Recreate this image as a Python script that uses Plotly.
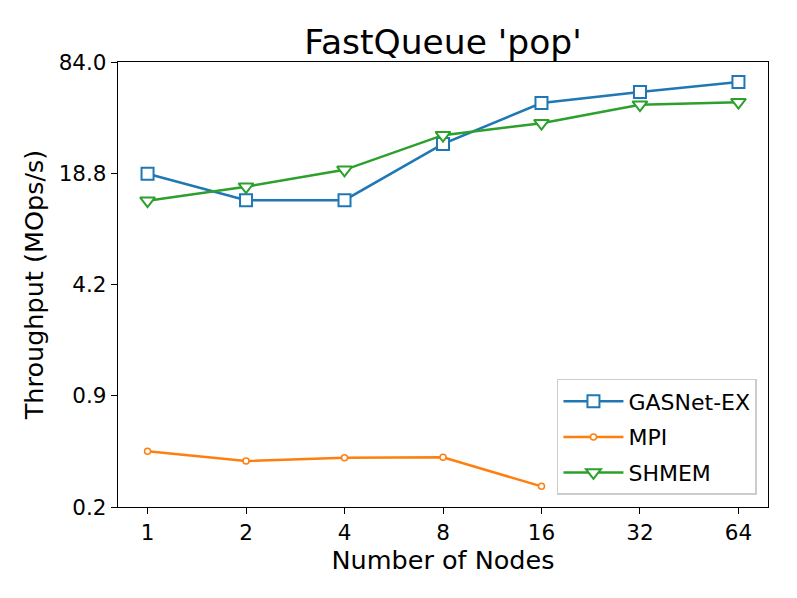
import math
import plotly.graph_objects as go

nodes = ["1", "2", "4", "8", "16", "32", "64"]
gasnet = [18.7, 13.1, 13.1, 27.9, 48.4, 56.1, 64.2]
mpi_nodes = ["1", "2", "4", "8", "16"]
mpi = [0.447, 0.392, 0.410, 0.412, 0.279]
shmem = [13.0, 15.7, 19.7, 31.4, 36.9, 47.3, 48.9]

y_tick_values = [0.2113, 0.9423, 4.21, 18.78, 84.0]
y_tick_labels = ["0.2", "0.9", "4.2", "18.8", "84.0"]

FONT = "DejaVu Sans"

fig = go.Figure()
fig.add_trace(go.Scatter(
    x=nodes, y=gasnet, name="GASNet-EX", mode="lines+markers", legendgroup="g1",
    line=dict(color="#1f77b4", width=2.5),
    marker=dict(symbol="square", size=12, color="white",
                line=dict(color="#1f77b4", width=2)),
))
fig.add_trace(go.Scatter(
    x=mpi_nodes, y=mpi, name="MPI", mode="lines+markers", legendgroup="g2",
    line=dict(color="#ff7f0e", width=2.5),
    marker=dict(symbol="circle", size=6, color="white",
                line=dict(color="#ff7f0e", width=1.5)),
))
fig.add_trace(go.Scatter(
    x=nodes, y=shmem, name="SHMEM", mode="lines+markers", legendgroup="g3",
    line=dict(color="#2ca02c", width=2.5),
    marker=dict(symbol="triangle-down", size=13, color="white",
                line=dict(color="#2ca02c", width=2)),
))

fig.update_layout(
    width=797, height=598,
    paper_bgcolor="white", plot_bgcolor="white",
    margin=dict(l=110, r=37, t=54, b=99),
    font=dict(family=FONT, size=20, color="black"),
    title=dict(text="FastQueue 'pop'", x=0.5, xref="paper",
               y=1 - 34 / 598, yref="container", yanchor="middle",
               font=dict(size=34.5, family=FONT, color="black")),
    legend=dict(x=0.983, xanchor="right", y=0.027, yanchor="bottom",
                bordercolor="#cccccc", borderwidth=1.5, bgcolor="white",
                font=dict(size=22, family=FONT), tracegroupgap=4,
                itemwidth=60),
    showlegend=True,
)
fig.update_xaxes(
    type="category", categoryorder="array", categoryarray=nodes,
    range=[-0.3, 6.3],
    showline=True, linecolor="black", linewidth=1.3, mirror=True,
    ticks="outside", ticklen=6, tickwidth=1.3, tickcolor="black",
    showgrid=False, zeroline=False,
    tickfont=dict(size=21.5, family=FONT),
    title=dict(text="Number of Nodes", font=dict(size=25.5, family=FONT), standoff=5),
)
fig.update_yaxes(
    type="log",
    range=[math.log10(y_tick_values[0]), math.log10(y_tick_values[-1])],
    tickvals=y_tick_values, ticktext=y_tick_labels,
    showline=True, linecolor="black", linewidth=1.3, mirror=True,
    ticks="outside", ticklen=6, tickwidth=1.3, tickcolor="black",
    showgrid=False, zeroline=False,
    tickfont=dict(size=21.5, family=FONT),
    title=dict(text="Throughput (MOps/s)", font=dict(size=25.5, family=FONT), standoff=7),
)

fig.write_html("out.html")
